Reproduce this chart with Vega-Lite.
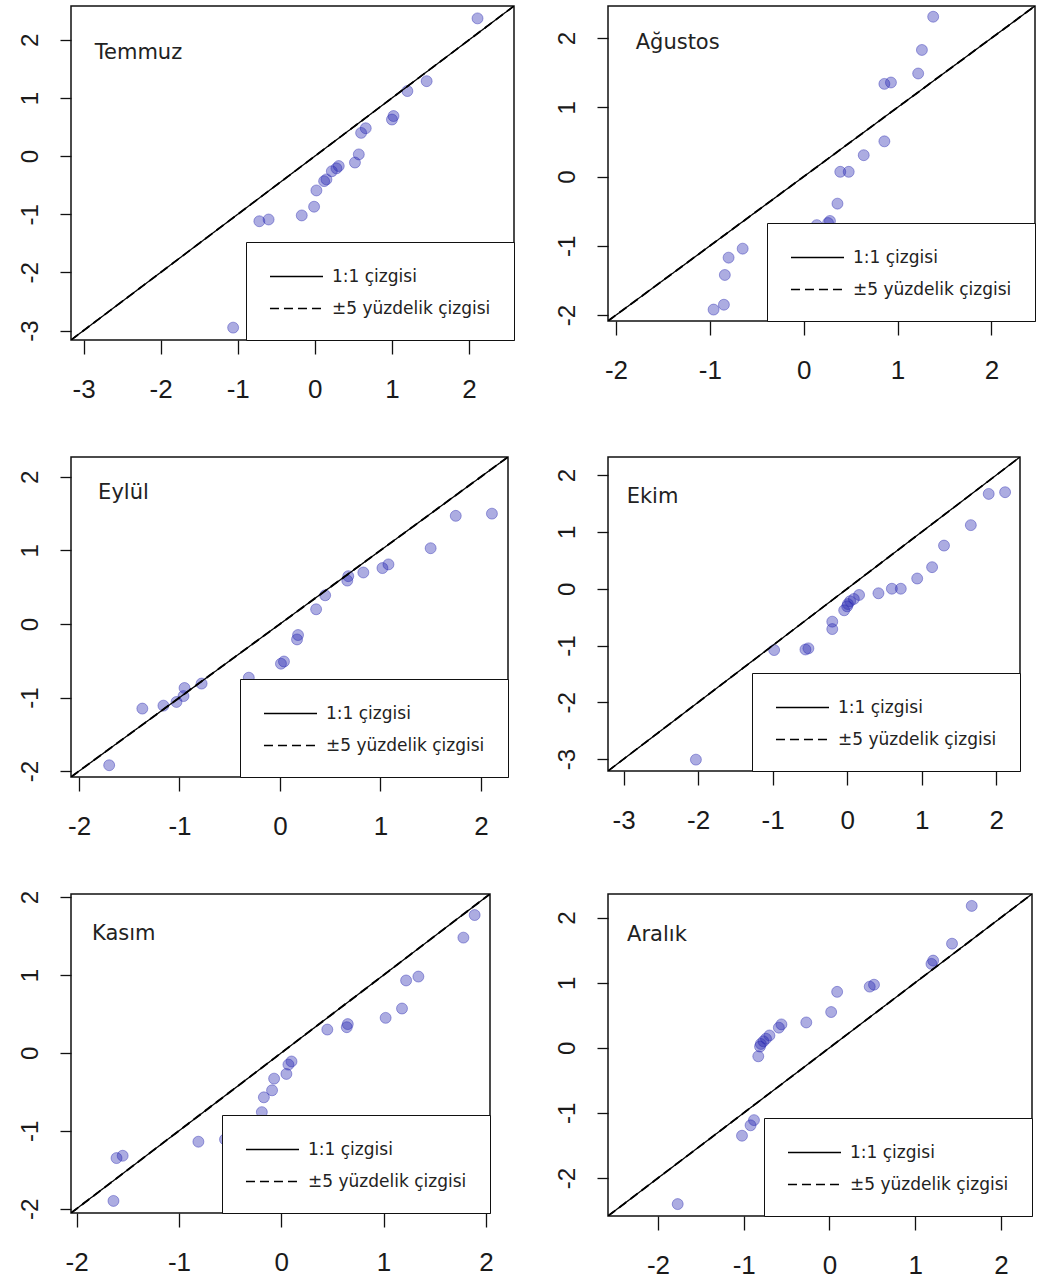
{
  "$schema": "https://vega.github.io/schema/vega-lite/v6.json",
  "background": "white",
  "padding": {"left": 17, "top": 5, "right": 0, "bottom": 0},
  "columns": 2,
  "bounds": "flush",
  "spacing": {"row": 117, "column": 94},
  "resolve": {
    "scale": {"x": "independent", "y": "independent", "strokeDash": "independent"},
    "legend": {"strokeDash": "independent"}
  },
  "config": {
    "view": {"stroke": "#111111", "strokeWidth": 1.5},
    "axis": {
      "grid": false, "domain": false, "title": null,
      "tickColor": "#111111", "tickWidth": 1.3,
      "labelFont": "Liberation Sans", "labelColor": "#1a1a1a",
      "labelFlush": false, "labelOverlap": false,
      "labelExpr": "toString(datum.value)"
    },
    "axisX": {"tickSize": 14, "labelFontSize": 26, "labelPadding": 22, "labelBaseline": "top"},
    "axisY": {"tickSize": 11, "labelFontSize": 24, "labelPadding": 23, "labelAngle": 270, "labelAlign": "center", "labelBaseline": "alphabetic"},
    "legend": {
      "orient": "bottom-right", "offset": 0,
      "fillColor": "white", "strokeColor": "#111111",
      "padding": 23, "rowPadding": 12, "symbolOffset": 16,
      "symbolType": "M-2.5,0L2.5,0", "symbolSize": 450, "symbolStrokeWidth": 1.4, "symbolStrokeColor": "black",
      "labelOffset": 24, "labelFont": "DejaVu Sans", "labelFontSize": 17, "labelColor": "#222222", "labelLimit": 400
    }
  },
  "datasets": {
    "pts": [
      {"ay": "Temmuz", "x": 2.11, "y": 2.37},
      {"ay": "Temmuz", "x": 1.45, "y": 1.29},
      {"ay": "Temmuz", "x": 1.20, "y": 1.12},
      {"ay": "Temmuz", "x": 1.02, "y": 0.69},
      {"ay": "Temmuz", "x": 1.00, "y": 0.63},
      {"ay": "Temmuz", "x": 0.66, "y": 0.48},
      {"ay": "Temmuz", "x": 0.60, "y": 0.40},
      {"ay": "Temmuz", "x": 0.57, "y": 0.03},
      {"ay": "Temmuz", "x": 0.52, "y": -0.11},
      {"ay": "Temmuz", "x": 0.31, "y": -0.17},
      {"ay": "Temmuz", "x": 0.28, "y": -0.21},
      {"ay": "Temmuz", "x": 0.22, "y": -0.26},
      {"ay": "Temmuz", "x": 0.15, "y": -0.40},
      {"ay": "Temmuz", "x": 0.12, "y": -0.43},
      {"ay": "Temmuz", "x": 0.02, "y": -0.59},
      {"ay": "Temmuz", "x": -0.01, "y": -0.87},
      {"ay": "Temmuz", "x": -0.17, "y": -1.02},
      {"ay": "Temmuz", "x": -0.60, "y": -1.09},
      {"ay": "Temmuz", "x": -0.72, "y": -1.12},
      {"ay": "Temmuz", "x": -1.06, "y": -2.95},

      {"ay": "Ağustos", "x": 1.38, "y": 2.31},
      {"ay": "Ağustos", "x": 1.26, "y": 1.83},
      {"ay": "Ağustos", "x": 1.22, "y": 1.49},
      {"ay": "Ağustos", "x": 0.93, "y": 1.36},
      {"ay": "Ağustos", "x": 0.86, "y": 1.34},
      {"ay": "Ağustos", "x": 0.86, "y": 0.51},
      {"ay": "Ağustos", "x": 0.64, "y": 0.31},
      {"ay": "Ağustos", "x": 0.48, "y": 0.07},
      {"ay": "Ağustos", "x": 0.39, "y": 0.07},
      {"ay": "Ağustos", "x": 0.36, "y": -0.39},
      {"ay": "Ağustos", "x": 0.28, "y": -0.64},
      {"ay": "Ağustos", "x": 0.26, "y": -0.67},
      {"ay": "Ağustos", "x": 0.14, "y": -0.70},
      {"ay": "Ağustos", "x": -0.65, "y": -1.04},
      {"ay": "Ağustos", "x": -0.80, "y": -1.17},
      {"ay": "Ağustos", "x": -0.84, "y": -1.42},
      {"ay": "Ağustos", "x": -0.85, "y": -1.85},
      {"ay": "Ağustos", "x": -0.96, "y": -1.92},

      {"ay": "Eylül", "x": 2.11, "y": 1.50},
      {"ay": "Eylül", "x": 1.75, "y": 1.47},
      {"ay": "Eylül", "x": 1.50, "y": 1.03},
      {"ay": "Eylül", "x": 1.08, "y": 0.81},
      {"ay": "Eylül", "x": 1.02, "y": 0.76},
      {"ay": "Eylül", "x": 0.83, "y": 0.70},
      {"ay": "Eylül", "x": 0.68, "y": 0.65},
      {"ay": "Eylül", "x": 0.67, "y": 0.59},
      {"ay": "Eylül", "x": 0.45, "y": 0.39},
      {"ay": "Eylül", "x": 0.36, "y": 0.20},
      {"ay": "Eylül", "x": 0.18, "y": -0.15},
      {"ay": "Eylül", "x": 0.17, "y": -0.21},
      {"ay": "Eylül", "x": 0.04, "y": -0.51},
      {"ay": "Eylül", "x": 0.01, "y": -0.54},
      {"ay": "Eylül", "x": -0.31, "y": -0.73},
      {"ay": "Eylül", "x": -0.78, "y": -0.81},
      {"ay": "Eylül", "x": -0.95, "y": -0.87},
      {"ay": "Eylül", "x": -0.96, "y": -0.98},
      {"ay": "Eylül", "x": -1.03, "y": -1.06},
      {"ay": "Eylül", "x": -1.16, "y": -1.11},
      {"ay": "Eylül", "x": -1.37, "y": -1.15},
      {"ay": "Eylül", "x": -1.70, "y": -1.92},

      {"ay": "Ekim", "x": 2.12, "y": 1.70},
      {"ay": "Ekim", "x": 1.90, "y": 1.67},
      {"ay": "Ekim", "x": 1.66, "y": 1.12},
      {"ay": "Ekim", "x": 1.30, "y": 0.76},
      {"ay": "Ekim", "x": 1.14, "y": 0.38},
      {"ay": "Ekim", "x": 0.94, "y": 0.18},
      {"ay": "Ekim", "x": 0.72, "y": 0.00},
      {"ay": "Ekim", "x": 0.60, "y": 0.00},
      {"ay": "Ekim", "x": 0.42, "y": -0.08},
      {"ay": "Ekim", "x": 0.16, "y": -0.11},
      {"ay": "Ekim", "x": 0.09, "y": -0.18},
      {"ay": "Ekim", "x": 0.04, "y": -0.22},
      {"ay": "Ekim", "x": 0.01, "y": -0.27},
      {"ay": "Ekim", "x": 0.00, "y": -0.31},
      {"ay": "Ekim", "x": -0.04, "y": -0.38},
      {"ay": "Ekim", "x": -0.20, "y": -0.58},
      {"ay": "Ekim", "x": -0.20, "y": -0.71},
      {"ay": "Ekim", "x": -0.52, "y": -1.05},
      {"ay": "Ekim", "x": -0.56, "y": -1.07},
      {"ay": "Ekim", "x": -0.98, "y": -1.08},
      {"ay": "Ekim", "x": -1.18, "y": -1.79},
      {"ay": "Ekim", "x": -2.03, "y": -3.01},

      {"ay": "Kasım", "x": 1.89, "y": 1.77},
      {"ay": "Kasım", "x": 1.78, "y": 1.48},
      {"ay": "Kasım", "x": 1.34, "y": 0.98},
      {"ay": "Kasım", "x": 1.22, "y": 0.93},
      {"ay": "Kasım", "x": 1.18, "y": 0.57},
      {"ay": "Kasım", "x": 1.02, "y": 0.45},
      {"ay": "Kasım", "x": 0.65, "y": 0.37},
      {"ay": "Kasım", "x": 0.64, "y": 0.33},
      {"ay": "Kasım", "x": 0.45, "y": 0.30},
      {"ay": "Kasım", "x": 0.10, "y": -0.11},
      {"ay": "Kasım", "x": 0.07, "y": -0.15},
      {"ay": "Kasım", "x": 0.05, "y": -0.27},
      {"ay": "Kasım", "x": -0.07, "y": -0.33},
      {"ay": "Kasım", "x": -0.09, "y": -0.48},
      {"ay": "Kasım", "x": -0.17, "y": -0.57},
      {"ay": "Kasım", "x": -0.19, "y": -0.76},
      {"ay": "Kasım", "x": -0.55, "y": -1.11},
      {"ay": "Kasım", "x": -0.81, "y": -1.14},
      {"ay": "Kasım", "x": -1.55, "y": -1.32},
      {"ay": "Kasım", "x": -1.61, "y": -1.35},
      {"ay": "Kasım", "x": -1.64, "y": -1.90},

      {"ay": "Aralık", "x": 1.66, "y": 2.18},
      {"ay": "Aralık", "x": 1.43, "y": 1.60},
      {"ay": "Aralık", "x": 1.21, "y": 1.34},
      {"ay": "Aralık", "x": 1.19, "y": 1.29},
      {"ay": "Aralık", "x": 0.52, "y": 0.97},
      {"ay": "Aralık", "x": 0.47, "y": 0.94},
      {"ay": "Aralık", "x": 0.09, "y": 0.86},
      {"ay": "Aralık", "x": 0.02, "y": 0.55},
      {"ay": "Aralık", "x": -0.27, "y": 0.39},
      {"ay": "Aralık", "x": -0.56, "y": 0.36},
      {"ay": "Aralık", "x": -0.59, "y": 0.31},
      {"ay": "Aralık", "x": -0.70, "y": 0.19},
      {"ay": "Aralık", "x": -0.74, "y": 0.14},
      {"ay": "Aralık", "x": -0.77, "y": 0.10},
      {"ay": "Aralık", "x": -0.80, "y": 0.06},
      {"ay": "Aralık", "x": -0.81, "y": 0.02},
      {"ay": "Aralık", "x": -0.83, "y": -0.13},
      {"ay": "Aralık", "x": -0.88, "y": -1.11},
      {"ay": "Aralık", "x": -0.92, "y": -1.19},
      {"ay": "Aralık", "x": -1.02, "y": -1.35},
      {"ay": "Aralık", "x": -1.77, "y": -2.40}
    ],
    "ref": [
      {"ay": "Temmuz", "kind": "1:1 çizgisi", "seg": "a", "x": -3.163, "y": -3.163},
      {"ay": "Temmuz", "kind": "1:1 çizgisi", "seg": "a", "x": 2.583, "y": 2.583},
      {"ay": "Temmuz", "kind": "±5 yüzdelik çizgisi", "seg": "b", "x": -3.163, "y": -3.158},
      {"ay": "Temmuz", "kind": "±5 yüzdelik çizgisi", "seg": "b", "x": 2.583, "y": 2.588},
      {"ay": "Temmuz", "kind": "±5 yüzdelik çizgisi", "seg": "c", "x": -3.163, "y": -3.168},
      {"ay": "Temmuz", "kind": "±5 yüzdelik çizgisi", "seg": "c", "x": 2.583, "y": 2.578},

      {"ay": "Ağustos", "kind": "1:1 çizgisi", "seg": "a", "x": -2.085, "y": -2.085},
      {"ay": "Ağustos", "kind": "1:1 çizgisi", "seg": "a", "x": 2.465, "y": 2.465},
      {"ay": "Ağustos", "kind": "±5 yüzdelik çizgisi", "seg": "b", "x": -2.085, "y": -2.08},
      {"ay": "Ağustos", "kind": "±5 yüzdelik çizgisi", "seg": "b", "x": 2.465, "y": 2.47},
      {"ay": "Ağustos", "kind": "±5 yüzdelik çizgisi", "seg": "c", "x": -2.085, "y": -2.09},
      {"ay": "Ağustos", "kind": "±5 yüzdelik çizgisi", "seg": "c", "x": 2.465, "y": 2.46},

      {"ay": "Eylül", "kind": "1:1 çizgisi", "seg": "a", "x": -2.08, "y": -2.08},
      {"ay": "Eylül", "kind": "1:1 çizgisi", "seg": "a", "x": 2.27, "y": 2.27},
      {"ay": "Eylül", "kind": "±5 yüzdelik çizgisi", "seg": "b", "x": -2.08, "y": -2.075},
      {"ay": "Eylül", "kind": "±5 yüzdelik çizgisi", "seg": "b", "x": 2.27, "y": 2.275},
      {"ay": "Eylül", "kind": "±5 yüzdelik çizgisi", "seg": "c", "x": -2.08, "y": -2.085},
      {"ay": "Eylül", "kind": "±5 yüzdelik çizgisi", "seg": "c", "x": 2.27, "y": 2.265},

      {"ay": "Ekim", "kind": "1:1 çizgisi", "seg": "a", "x": -3.21, "y": -3.21},
      {"ay": "Ekim", "kind": "1:1 çizgisi", "seg": "a", "x": 2.32, "y": 2.32},
      {"ay": "Ekim", "kind": "±5 yüzdelik çizgisi", "seg": "b", "x": -3.21, "y": -3.205},
      {"ay": "Ekim", "kind": "±5 yüzdelik çizgisi", "seg": "b", "x": 2.32, "y": 2.325},
      {"ay": "Ekim", "kind": "±5 yüzdelik çizgisi", "seg": "c", "x": -3.21, "y": -3.215},
      {"ay": "Ekim", "kind": "±5 yüzdelik çizgisi", "seg": "c", "x": 2.32, "y": 2.315},

      {"ay": "Kasım", "kind": "1:1 çizgisi", "seg": "a", "x": -2.055, "y": -2.055},
      {"ay": "Kasım", "kind": "1:1 çizgisi", "seg": "a", "x": 2.04, "y": 2.04},
      {"ay": "Kasım", "kind": "±5 yüzdelik çizgisi", "seg": "b", "x": -2.055, "y": -2.05},
      {"ay": "Kasım", "kind": "±5 yüzdelik çizgisi", "seg": "b", "x": 2.04, "y": 2.045},
      {"ay": "Kasım", "kind": "±5 yüzdelik çizgisi", "seg": "c", "x": -2.055, "y": -2.06},
      {"ay": "Kasım", "kind": "±5 yüzdelik çizgisi", "seg": "c", "x": 2.04, "y": 2.035},

      {"ay": "Aralık", "kind": "1:1 çizgisi", "seg": "a", "x": -2.583, "y": -2.583},
      {"ay": "Aralık", "kind": "1:1 çizgisi", "seg": "a", "x": 2.363, "y": 2.363},
      {"ay": "Aralık", "kind": "±5 yüzdelik çizgisi", "seg": "b", "x": -2.583, "y": -2.578},
      {"ay": "Aralık", "kind": "±5 yüzdelik çizgisi", "seg": "b", "x": 2.363, "y": 2.368},
      {"ay": "Aralık", "kind": "±5 yüzdelik çizgisi", "seg": "c", "x": -2.583, "y": -2.588},
      {"ay": "Aralık", "kind": "±5 yüzdelik çizgisi", "seg": "c", "x": 2.363, "y": 2.358}
    ]
  },
  "concat": [
    {
      "width": 443, "height": 334,
      "layer": [
        {
          "data": {"name": "pts"},
          "transform": [{"filter": "datum.ay === 'Temmuz'"}],
          "mark": {"type": "circle", "size": 120, "color": "#2424b0", "fillOpacity": 0.38, "stroke": "#2424b0", "strokeOpacity": 0.4, "strokeWidth": 1},
          "encoding": {
            "x": {"field": "x", "type": "quantitative", "scale": {"domain": [-3.163, 2.583], "nice": false, "zero": false}, "axis": {"values": [-3, -2, -1, 0, 1, 2]}},
            "y": {"field": "y", "type": "quantitative", "scale": {"domain": [-3.163, 2.583], "nice": false, "zero": false}, "axis": {"values": [-3, -2, -1, 0, 1, 2]}}
          }
        },
        {
          "data": {"name": "ref"},
          "transform": [{"filter": "datum.ay === 'Temmuz'"}],
          "mark": {"type": "line", "color": "black", "strokeWidth": 1.3, "clip": true},
          "encoding": {
            "x": {"field": "x", "type": "quantitative"},
            "y": {"field": "y", "type": "quantitative"},
            "detail": {"field": "seg"},
            "strokeDash": {"field": "kind", "type": "nominal", "scale": {"domain": ["1:1 çizgisi", "±5 yüzdelik çizgisi"], "range": [[1, 0], [9, 5]]}, "legend": {"title": null}}
          }
        },
        {
          "data": {"values": [{"ad": "Temmuz"}]},
          "mark": {"type": "text", "align": "left", "baseline": "middle", "font": "DejaVu Sans", "fontSize": 21, "color": "#222222"},
          "encoding": {"x": {"datum": -2.855}, "y": {"datum": 1.78}, "text": {"field": "ad"}}
        }
      ]
    },
    {
      "width": 427, "height": 315,
      "layer": [
        {
          "data": {"name": "pts"},
          "transform": [{"filter": "datum.ay === 'Ağustos'"}],
          "mark": {"type": "circle", "size": 120, "color": "#2424b0", "fillOpacity": 0.38, "stroke": "#2424b0", "strokeOpacity": 0.4, "strokeWidth": 1},
          "encoding": {
            "x": {"field": "x", "type": "quantitative", "scale": {"domain": [-2.085, 2.465], "nice": false, "zero": false}, "axis": {"values": [-2, -1, 0, 1, 2]}},
            "y": {"field": "y", "type": "quantitative", "scale": {"domain": [-2.085, 2.465], "nice": false, "zero": false}, "axis": {"values": [-2, -1, 0, 1, 2]}}
          }
        },
        {
          "data": {"name": "ref"},
          "transform": [{"filter": "datum.ay === 'Ağustos'"}],
          "mark": {"type": "line", "color": "black", "strokeWidth": 1.3, "clip": true},
          "encoding": {
            "x": {"field": "x", "type": "quantitative"},
            "y": {"field": "y", "type": "quantitative"},
            "detail": {"field": "seg"},
            "strokeDash": {"field": "kind", "type": "nominal", "scale": {"domain": ["1:1 çizgisi", "±5 yüzdelik çizgisi"], "range": [[1, 0], [9, 5]]}, "legend": {"title": null}}
          }
        },
        {
          "data": {"values": [{"ad": "Ağustos"}]},
          "mark": {"type": "text", "align": "left", "baseline": "middle", "font": "DejaVu Sans", "fontSize": 21, "color": "#222222"},
          "encoding": {"x": {"datum": -1.79}, "y": {"datum": 1.93}, "text": {"field": "ad"}}
        }
      ]
    },
    {
      "width": 437, "height": 320,
      "layer": [
        {
          "data": {"name": "pts"},
          "transform": [{"filter": "datum.ay === 'Eylül'"}],
          "mark": {"type": "circle", "size": 120, "color": "#2424b0", "fillOpacity": 0.38, "stroke": "#2424b0", "strokeOpacity": 0.4, "strokeWidth": 1},
          "encoding": {
            "x": {"field": "x", "type": "quantitative", "scale": {"domain": [-2.08, 2.27], "nice": false, "zero": false}, "axis": {"values": [-2, -1, 0, 1, 2]}},
            "y": {"field": "y", "type": "quantitative", "scale": {"domain": [-2.08, 2.27], "nice": false, "zero": false}, "axis": {"values": [-2, -1, 0, 1, 2]}}
          }
        },
        {
          "data": {"name": "ref"},
          "transform": [{"filter": "datum.ay === 'Eylül'"}],
          "mark": {"type": "line", "color": "black", "strokeWidth": 1.3, "clip": true},
          "encoding": {
            "x": {"field": "x", "type": "quantitative"},
            "y": {"field": "y", "type": "quantitative"},
            "detail": {"field": "seg"},
            "strokeDash": {"field": "kind", "type": "nominal", "scale": {"domain": ["1:1 çizgisi", "±5 yüzdelik çizgisi"], "range": [[1, 0], [9, 5]]}, "legend": {"title": null}}
          }
        },
        {
          "data": {"values": [{"ad": "Eylül"}]},
          "mark": {"type": "text", "align": "left", "baseline": "middle", "font": "DejaVu Sans", "fontSize": 21, "color": "#222222"},
          "encoding": {"x": {"datum": -1.81}, "y": {"datum": 1.775}, "text": {"field": "ad"}}
        }
      ]
    },
    {
      "width": 412, "height": 314,
      "layer": [
        {
          "data": {"name": "pts"},
          "transform": [{"filter": "datum.ay === 'Ekim'"}],
          "mark": {"type": "circle", "size": 120, "color": "#2424b0", "fillOpacity": 0.38, "stroke": "#2424b0", "strokeOpacity": 0.4, "strokeWidth": 1},
          "encoding": {
            "x": {"field": "x", "type": "quantitative", "scale": {"domain": [-3.21, 2.32], "nice": false, "zero": false}, "axis": {"values": [-3, -2, -1, 0, 1, 2]}},
            "y": {"field": "y", "type": "quantitative", "scale": {"domain": [-3.21, 2.32], "nice": false, "zero": false}, "axis": {"values": [-3, -2, -1, 0, 1, 2]}}
          }
        },
        {
          "data": {"name": "ref"},
          "transform": [{"filter": "datum.ay === 'Ekim'"}],
          "mark": {"type": "line", "color": "black", "strokeWidth": 1.3, "clip": true},
          "encoding": {
            "x": {"field": "x", "type": "quantitative"},
            "y": {"field": "y", "type": "quantitative"},
            "detail": {"field": "seg"},
            "strokeDash": {"field": "kind", "type": "nominal", "scale": {"domain": ["1:1 çizgisi", "±5 yüzdelik çizgisi"], "range": [[1, 0], [9, 5]]}, "legend": {"title": null}}
          }
        },
        {
          "data": {"values": [{"ad": "Ekim"}]},
          "mark": {"type": "text", "align": "left", "baseline": "middle", "font": "DejaVu Sans", "fontSize": 21, "color": "#222222"},
          "encoding": {"x": {"datum": -2.96}, "y": {"datum": 1.62}, "text": {"field": "ad"}}
        }
      ]
    },
    {
      "width": 419, "height": 319,
      "layer": [
        {
          "data": {"name": "pts"},
          "transform": [{"filter": "datum.ay === 'Kasım'"}],
          "mark": {"type": "circle", "size": 120, "color": "#2424b0", "fillOpacity": 0.38, "stroke": "#2424b0", "strokeOpacity": 0.4, "strokeWidth": 1},
          "encoding": {
            "x": {"field": "x", "type": "quantitative", "scale": {"domain": [-2.055, 2.04], "nice": false, "zero": false}, "axis": {"values": [-2, -1, 0, 1, 2]}},
            "y": {"field": "y", "type": "quantitative", "scale": {"domain": [-2.055, 2.04], "nice": false, "zero": false}, "axis": {"values": [-2, -1, 0, 1, 2]}}
          }
        },
        {
          "data": {"name": "ref"},
          "transform": [{"filter": "datum.ay === 'Kasım'"}],
          "mark": {"type": "line", "color": "black", "strokeWidth": 1.3, "clip": true},
          "encoding": {
            "x": {"field": "x", "type": "quantitative"},
            "y": {"field": "y", "type": "quantitative"},
            "detail": {"field": "seg"},
            "strokeDash": {"field": "kind", "type": "nominal", "scale": {"domain": ["1:1 çizgisi", "±5 yüzdelik çizgisi"], "range": [[1, 0], [9, 5]]}, "legend": {"title": null}}
          }
        },
        {
          "data": {"values": [{"ad": "Kasım"}]},
          "mark": {"type": "text", "align": "left", "baseline": "middle", "font": "DejaVu Sans", "fontSize": 21, "color": "#222222"},
          "encoding": {"x": {"datum": -1.85}, "y": {"datum": 1.53}, "text": {"field": "ad"}}
        }
      ]
    },
    {
      "width": 424, "height": 322,
      "layer": [
        {
          "data": {"name": "pts"},
          "transform": [{"filter": "datum.ay === 'Aralık'"}],
          "mark": {"type": "circle", "size": 120, "color": "#2424b0", "fillOpacity": 0.38, "stroke": "#2424b0", "strokeOpacity": 0.4, "strokeWidth": 1},
          "encoding": {
            "x": {"field": "x", "type": "quantitative", "scale": {"domain": [-2.583, 2.363], "nice": false, "zero": false}, "axis": {"values": [-2, -1, 0, 1, 2]}},
            "y": {"field": "y", "type": "quantitative", "scale": {"domain": [-2.583, 2.363], "nice": false, "zero": false}, "axis": {"values": [-2, -1, 0, 1, 2]}}
          }
        },
        {
          "data": {"name": "ref"},
          "transform": [{"filter": "datum.ay === 'Aralık'"}],
          "mark": {"type": "line", "color": "black", "strokeWidth": 1.3, "clip": true},
          "encoding": {
            "x": {"field": "x", "type": "quantitative"},
            "y": {"field": "y", "type": "quantitative"},
            "detail": {"field": "seg"},
            "strokeDash": {"field": "kind", "type": "nominal", "scale": {"domain": ["1:1 çizgisi", "±5 yüzdelik çizgisi"], "range": [[1, 0], [9, 5]]}, "legend": {"title": null}}
          }
        },
        {
          "data": {"values": [{"ad": "Aralık"}]},
          "mark": {"type": "text", "align": "left", "baseline": "middle", "font": "DejaVu Sans", "fontSize": 21, "color": "#222222"},
          "encoding": {"x": {"datum": -2.36}, "y": {"datum": 1.735}, "text": {"field": "ad"}}
        }
      ]
    }
  ]
}
